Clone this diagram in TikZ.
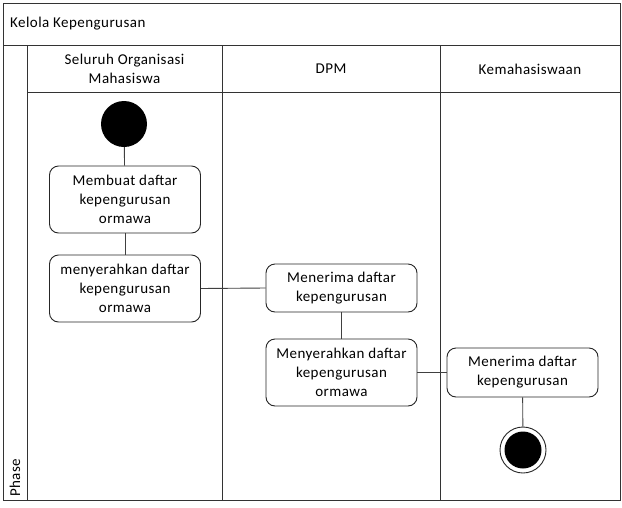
\documentclass[tikz,border=0pt]{standalone}
\usepackage{fontspec}
\setmainfont{Carlito}[LetterSpace=3]
\begin{document}
\begin{tikzpicture}[x=1pt,y=-1pt,
  lane/.style={draw=black!80,line width=1pt},
  act/.style={draw=black!85,line width=0.9pt,rounded corners=9pt,minimum width=151pt,align=center,font=\fontsize{15}{19}\selectfont,inner sep=0pt},
  conn/.style={draw=black!75,line width=0.9pt},
  lbl/.style={font=\fontsize{15}{19}\selectfont,align=center,inner sep=0pt}]
\useasboundingbox (0,0) rectangle (622,507);
\fill[white] (0,0) rectangle (622,507);
% frame
\draw[lane] (3,3) rectangle (620,500);
\draw[lane] (3,45) -- (620,45);
\draw[lane] (27,45) -- (27,500);
\draw[lane] (27,92) -- (620,92);
\draw[lane] (222,45) -- (222,500);
\draw[lane] (440,45) -- (440,500);
\node[lbl,anchor=west] (title) at (10,24) {Kelola Kepengurusan};
\node[lbl,rotate=90,anchor=west] (phase) at (15,497) {Phase};
\node[lbl] (h1) at (124.5,68.5) {Seluruh Organisasi\\Mahasiswa};
\node[lbl] (h2) at (331,69) {DPM};
\node[lbl] (h3) at (530,69) {Kemahasiswaan};
% nodes
\node[circle,fill=black,minimum size=46pt,inner sep=0pt] (start) at (124,124) {};
\node[act,minimum height=67pt] (a1) at (125,199.5) {Membuat daftar\\kepengurusan\\ormawa};
\node[act,minimum height=67pt] (a2) at (125,288.5) {menyerahkan daftar\\kepengurusan\\ormawa};
\node[act,minimum height=48pt] (b1) at (341.5,288) {Menerima daftar\\kepengurusan};
\node[act,minimum height=67pt] (b2) at (341.5,372.5) {Menyerahkan daftar\\kepengurusan\\ormawa};
\node[act,minimum height=49pt] (c1) at (522.5,372.5) {Menerima daftar\\kepengurusan};
\node[circle,draw=black!85,line width=0.9pt,minimum size=46pt,inner sep=0pt] (end) at (523,450) {};
\node[circle,fill=black,minimum size=37pt,inner sep=0pt] (endin) at (end) {};
% connectors
\draw[conn] (start) -- (a1);
\draw[conn] (a1) -- (a2);
\draw[conn] (a2.east) -- (b1.west);
\draw[conn] (b1) -- (b2);
\draw[conn] (b2.east) -- (c1.west);
\draw[conn] (c1) -- (end);
\end{tikzpicture}
\end{document}
